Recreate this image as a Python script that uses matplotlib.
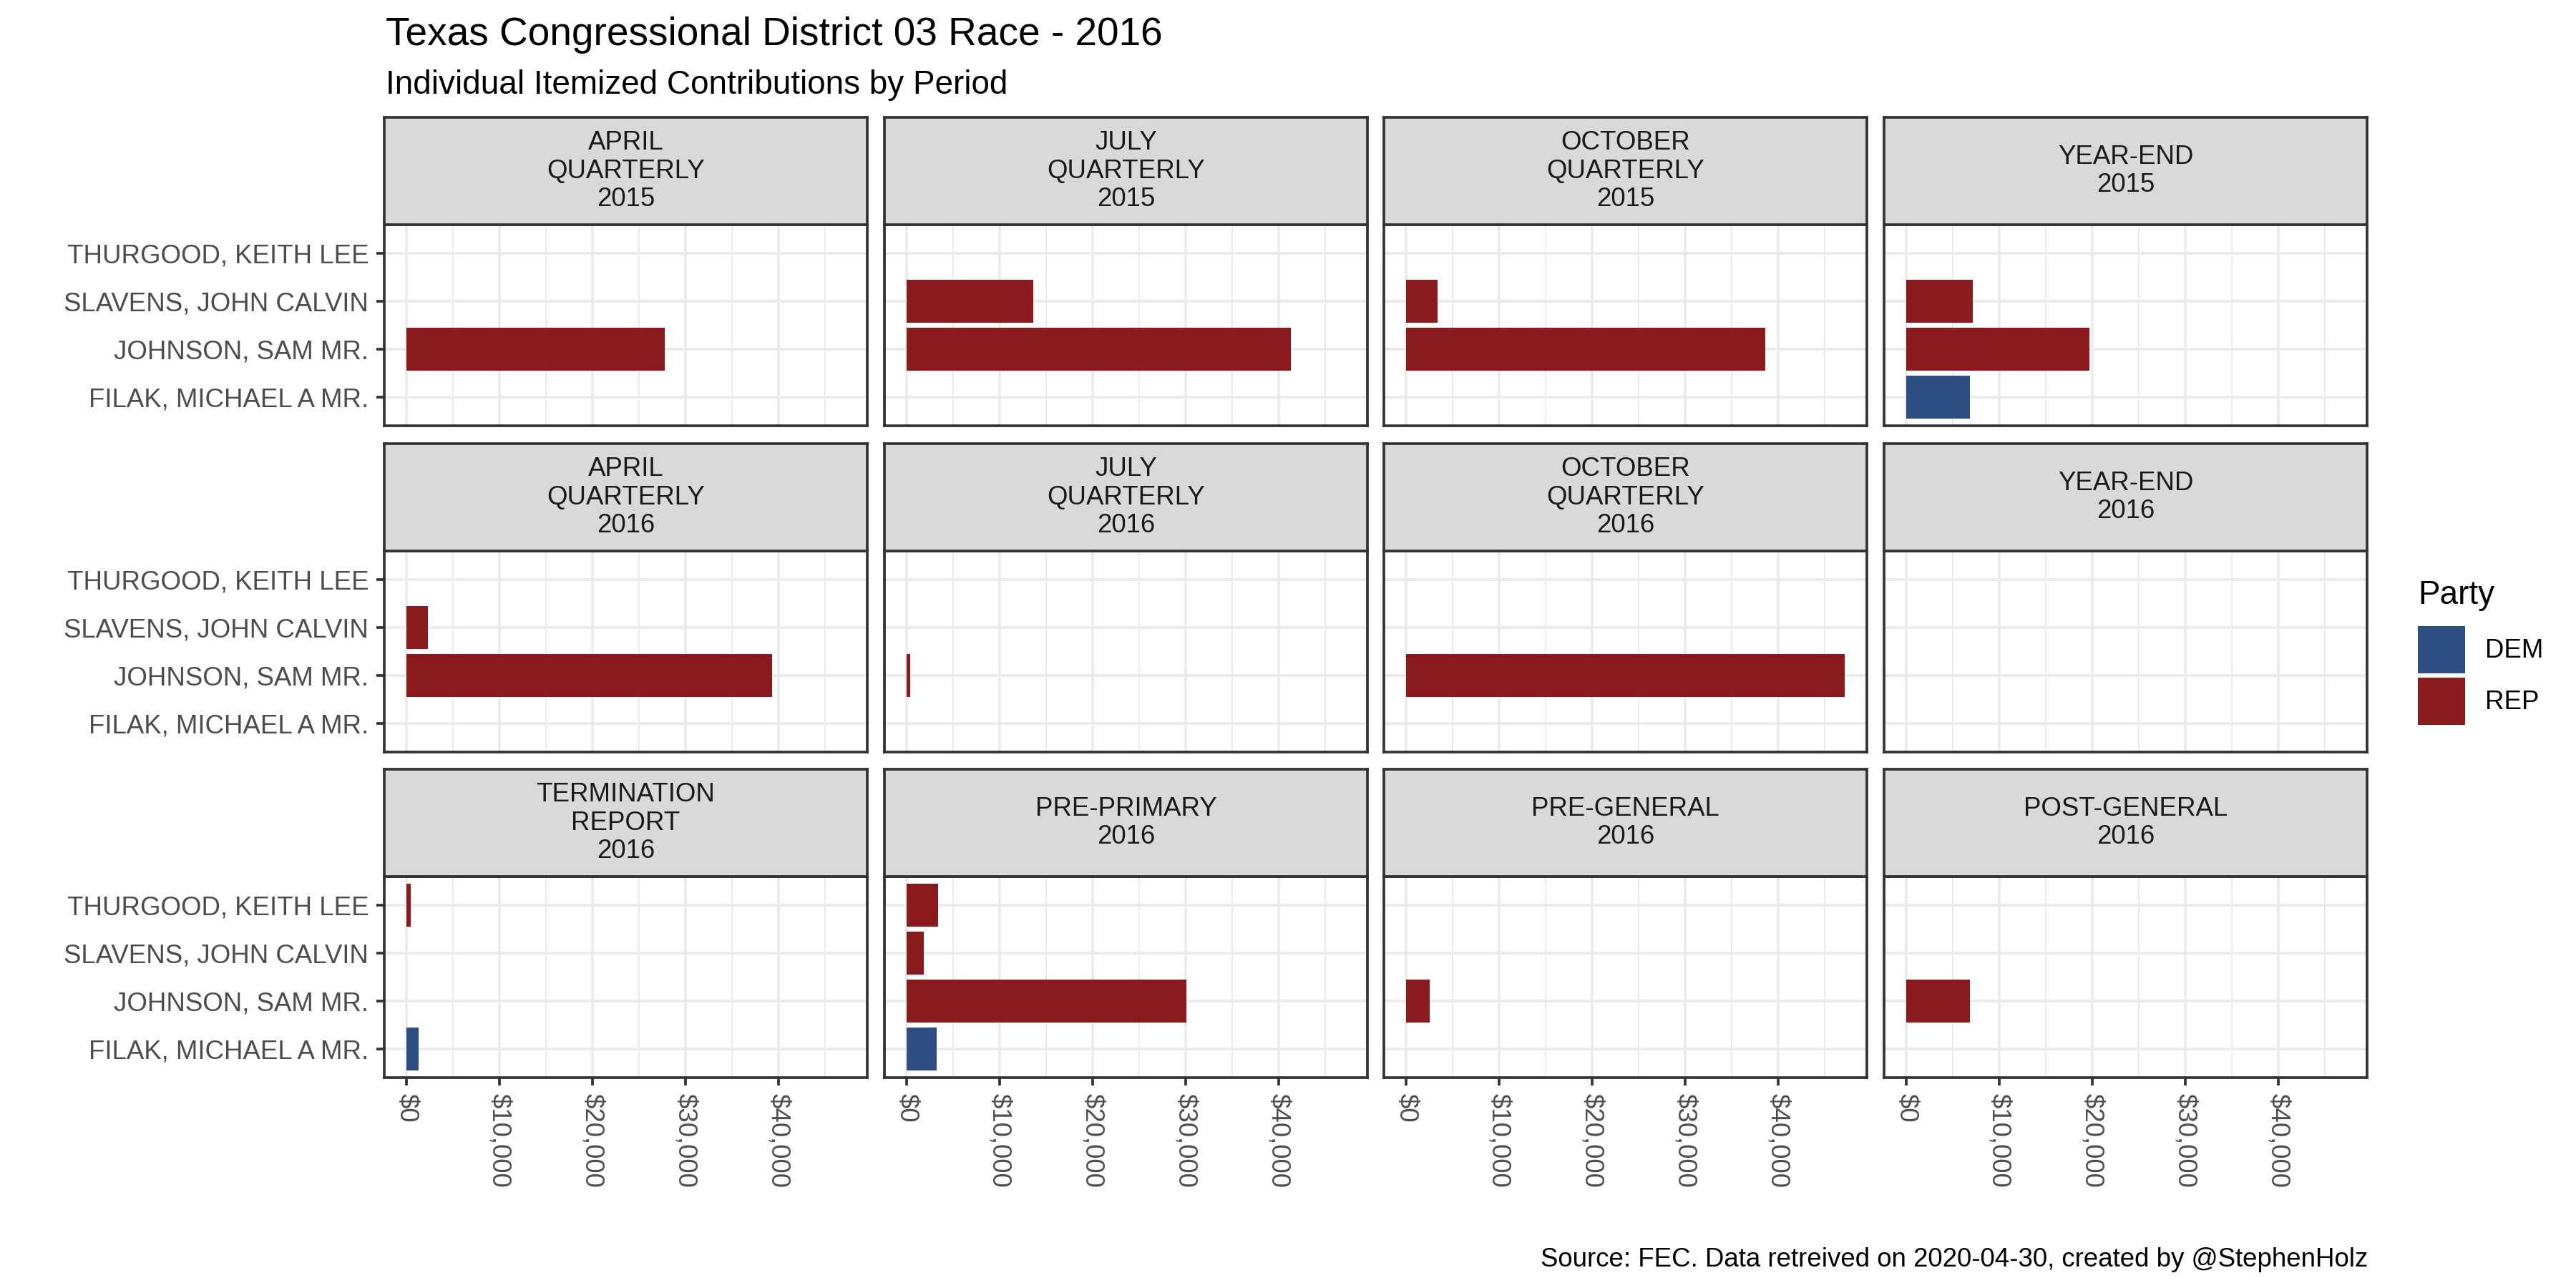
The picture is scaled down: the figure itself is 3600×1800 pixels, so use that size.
import matplotlib
matplotlib.use("Agg")
import matplotlib.pyplot as plt
from matplotlib.patches import Patch
from matplotlib.ticker import FuncFormatter, MultipleLocator

plt.rcParams['font.family'] = ['Liberation Sans', 'DejaVu Sans']

# data (USD)
periods = ["APRIL\nQUARTERLY\n2015", "JULY\nQUARTERLY\n2015", "OCTOBER\nQUARTERLY\n2015", "YEAR-END\n2015",
           "APRIL\nQUARTERLY\n2016", "JULY\nQUARTERLY\n2016", "OCTOBER\nQUARTERLY\n2016", "YEAR-END\n2016",
           "TERMINATION\nREPORT\n2016", "PRE-PRIMARY\n2016", "PRE-GENERAL\n2016", "POST-GENERAL\n2016"]
candidates = ["FILAK, MICHAEL A MR.", "JOHNSON, SAM MR.", "SLAVENS, JOHN CALVIN", "THURGOOD, KEITH LEE"]
party = ["DEM", "REP", "REP", "REP"]
# one list per candidate, one value per period (0 = no contributions)
filak = [0, 0, 0, 6830, 0, 0, 0, 0, 1320, 3240, 0, 0]
johnson = [27740, 41330, 38580, 19670, 39340, 440, 47170, 0, 0, 30070, 2580, 6830]
slavens = [0, 13620, 3420, 7170, 2350, 0, 0, 0, 0, 1840, 0, 0]
thurgood = [0, 0, 0, 0, 0, 0, 0, 0, 500, 3380, 0, 0]
amounts = [filak, johnson, slavens, thurgood]
x_breaks = [0, 10000, 20000, 30000, 40000]
party_colors = {"DEM": "#2C4E82", "REP": "#8B1A1D"}

W, H = 3600, 1800
fig = plt.figure(figsize=(12, 6), dpi=300)

col_left = [537, 1236, 1934, 2633]
panel_w = 675
strip_top = [164, 620, 1075]
strip_h = 150
panel_h = 281

xmax = max(max(a) for a in amounts)
border = "#333333"

for k, period in enumerate(periods):
    r, c = divmod(k, 4)
    x0 = col_left[c] / W
    ax = fig.add_axes([x0, 1 - (strip_top[r] + strip_h + panel_h) / H, panel_w / W, panel_h / H])
    sx = fig.add_axes([x0, 1 - (strip_top[r] + strip_h) / H, panel_w / W, strip_h / H])

    # strip
    sx.set_facecolor("#D9D9D9")
    sx.set_xticks([])
    sx.set_yticks([])
    for s in sx.spines.values():
        s.set_color(border)
        s.set_linewidth(0.9)
    sx.text(0.5, 0.5, period, ha='center', va='center', fontsize=8.8, color="#1A1A1A",
            linespacing=1.15, transform=sx.transAxes)

    # bars
    for i, cand in enumerate(candidates):
        v = amounts[i][k]
        if v > 0:
            ax.barh(i, v, height=0.9, color=party_colors[party[i]], zorder=3)

    ax.set_xlim(-0.05 * xmax, 1.05 * xmax)
    ax.set_ylim(-0.6, len(candidates) - 0.4)
    ax.set_xticks(x_breaks)
    ax.xaxis.set_minor_locator(MultipleLocator(5000))
    ax.set_yticks(range(len(candidates)))
    ax.set_axisbelow(True)
    ax.grid(which='major', color="#EBEBEB", linewidth=0.9)
    ax.grid(which='minor', axis='x', color="#EBEBEB", linewidth=0.45)
    for s in ax.spines.values():
        s.set_color(border)
        s.set_linewidth(0.9)
    ax.tick_params(which='minor', length=0)
    ax.tick_params(axis='both', which='major', color=border, width=0.9, length=2.75,
                   labelsize=8.8, labelcolor="#4D4D4D", pad=2.5)

    if c == 0:
        ax.set_yticklabels(candidates)
    else:
        ax.tick_params(axis='y', length=0, labelleft=False)
    if r == 2:
        ax.xaxis.set_major_formatter(FuncFormatter(lambda v, p: "${:,.0f}".format(v)))
        for lab in ax.get_xticklabels():
            lab.set_rotation(270)
            lab.set_va('top')
            lab.set_ha('center')
    else:
        ax.tick_params(axis='x', length=0, labelbottom=False)

fig.text(539 / W, 1 - 63 / H, "Texas Congressional District 03 Race - 2016", fontsize=13.2, color="black",
         ha='left', va='baseline')
fig.text(539 / W, 1 - 131 / H, "Individual Itemized Contributions by Period", fontsize=11, color="black",
         ha='left', va='baseline')
fig.text(3309 / W, 1 - 1770 / H, "Source: FEC. Data retreived on 2020-04-30, created by @StephenHolz",
         fontsize=8.8, color="black", ha='right', va='baseline')

# legend
fig.text(3379 / W, 1 - 844 / H, "Party", fontsize=11, color="black", ha='left', va='baseline')
handles = [Patch(facecolor=party_colors[p], edgecolor='none') for p in ["DEM", "REP"]]
fig.legend(handles, ["DEM", "REP"], loc='upper left', bbox_to_anchor=(3379 / W, 1 - 875 / H),
           frameon=False, fontsize=8.8, handlelength=1.8, handleheight=2.39,
           labelspacing=0.16, handletextpad=0.76, borderpad=0, borderaxespad=0)

fig.savefig("out.png", dpi=300)
